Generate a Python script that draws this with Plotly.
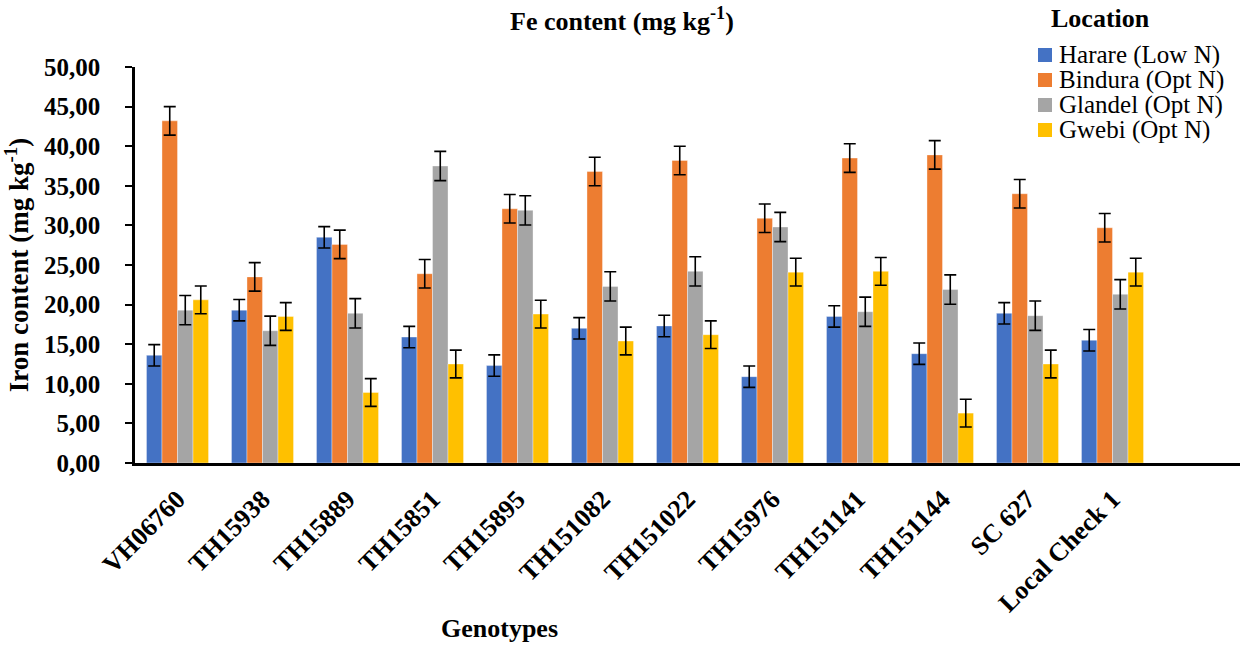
import plotly.graph_objects as go

genotypes = ["VH06760", "TH15938", "TH15889", "TH15851", "TH15895", "TH151082",
             "TH151022", "TH15976", "TH151141", "TH151144", "SC 627", "Local Check 1"]
harare = [13.6, 19.3, 28.5, 15.9, 12.3, 17.0, 17.3, 10.9, 18.5, 13.8, 18.9, 15.5]
bindura = [43.2, 23.5, 27.6, 23.9, 32.1, 36.8, 38.2, 30.9, 38.5, 38.9, 34.0, 29.7]
glandel = [19.3, 16.7, 18.9, 37.5, 31.9, 22.3, 24.2, 29.8, 19.1, 21.9, 18.6, 21.3]
gwebi = [20.6, 18.5, 8.9, 12.5, 18.8, 15.4, 16.2, 24.1, 24.2, 6.3, 12.5, 24.1]
err_harare = [1.35] * 12
err_bindura = [1.8] * 12
err_glandel = [1.85] * 12
err_gwebi = [1.75] * 12

series = [
    ("Harare (Low N)", harare, err_harare, "#4472C4"),
    ("Bindura (Opt N)", bindura, err_bindura, "#ED7D31"),
    ("Glandel (Opt N)", glandel, err_glandel, "#A5A5A5"),
    ("Gwebi (Opt N)", gwebi, err_gwebi, "#FFC000"),
]

FONT = "Liberation Serif, Times New Roman, serif"
W, H = 1243, 645
L, R, T, B = 135, 3, 67, 182
PW, PH = W - L - R, H - T - B


def px(x):
    return (x - L) / PW


def py(y):
    return (H - B - y) / PH


xpos = list(range(len(genotypes)))

fig = go.Figure()
for name, vals, errs, col in series:
    fig.add_trace(go.Bar(
        x=xpos, y=vals, name=name, showlegend=False,
        marker=dict(color=col, line=dict(color="rgba(255,255,255,0.6)", width=0.6)),
        error_y=dict(type="data", array=errs, visible=True, color="black",
                     thickness=1.6, width=6),
    ))

annotations = [
    dict(text="<b>Fe content (mg kg<sup>-1</sup>)</b>", x=px(622), y=py(20),
         xanchor="center", yanchor="middle", font=dict(size=26)),
    dict(text="<b>Genotypes</b>", x=px(499), y=py(628),
         xanchor="center", yanchor="middle", font=dict(size=26)),
    dict(text="<b>Location</b>", x=px(1100), y=py(18),
         xanchor="center", yanchor="middle", font=dict(size=26)),
]
shapes = []
for i, (name, vals, errs, col) in enumerate(series):
    yc = 55 + 25 * i
    annotations.append(dict(text=name, x=px(1057), y=py(yc), xanchor="left",
                            yanchor="middle", font=dict(size=25)))
    shapes.append(dict(type="rect", xref="paper", yref="paper",
                       x0=px(1038), x1=px(1052), y0=py(yc + 7), y1=py(yc - 7),
                       fillcolor=col, line=dict(width=0)))
for a in annotations:
    a.update(xref="paper", yref="paper", showarrow=False)
    a["font"].update(family=FONT, color="black")

fig.update_layout(
    barmode="group", bargap=0.27, bargroupgap=0,
    width=W, height=H,
    margin=dict(l=L, r=R, t=T, b=B),
    plot_bgcolor="white", paper_bgcolor="white",
    separators=",.",
    font=dict(family=FONT, color="black"),
    showlegend=False,
    xaxis=dict(
        range=[-0.5, 12.5], tickmode="array", tickvals=xpos, ticktext=genotypes,
        tickangle=-45, showline=True, linecolor="black", linewidth=2.5,
        ticks="", showgrid=False, zeroline=False, ticklabelstandoff=8,
        tickfont=dict(size=26, family=FONT, weight="bold"),
    ),
    yaxis=dict(
        range=[0, 50], dtick=5, tickformat=".2f", showline=True, linecolor="black",
        linewidth=2.5, ticks="outside", ticklen=7, tickwidth=2, tickcolor="black",
        showgrid=False, zeroline=False, ticklabelstandoff=20,
        tickfont=dict(size=25, family=FONT, weight="bold"),
        title=dict(text="<b>Iron content (mg kg<sup>-1</sup>)</b>", font=dict(size=27, family=FONT),
                   standoff=12),
    ),
    annotations=annotations,
    shapes=shapes,
)

fig.write_html("out.html")
